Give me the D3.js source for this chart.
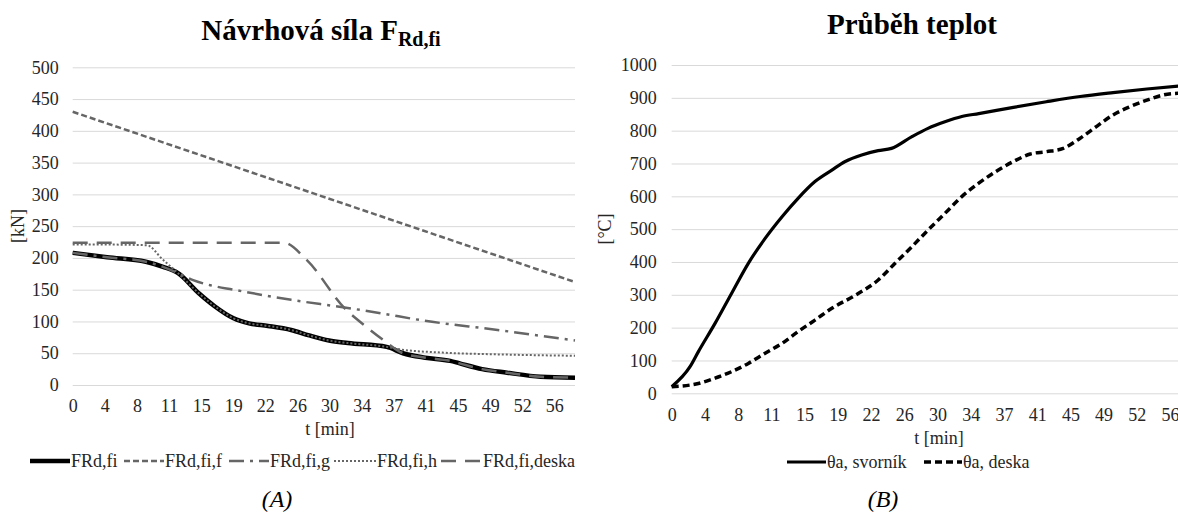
<!DOCTYPE html>
<html>
<head>
<meta charset="utf-8">
<script src="https://cdn.jsdelivr.net/npm/d3@7"></script>
<style>
  body { margin: 0; background: #fff; }
  svg { display: block; }
  text { font-family: "Liberation Serif", "Times New Roman", serif; }
</style>
</head>
<body>
<script>
// x axis categories (minutes), shared by both charts
const tickLabels = ["0", "4", "8", "11", "15", "19", "22", "26", "30", "34", "37", "41", "45", "49", "52", "56"];
const tickMinutes = tickLabels.map((d, i) => i * 56 / 15);

// chart A: design force [kN], points are [t min, value]
const fRdFi = [[0, 208], [4, 201], [8.5, 194], [10.5, 186], [12.25, 176], [14.7, 144], [16.5, 124], [18.7, 105],
  [20.5, 97], [22.7, 93], [25.4, 86.6], [27.5, 78], [29.8, 70], [32, 66], [36.5, 60], [38.4, 50], [41, 43],
  [43.9, 38], [45, 34], [47.6, 25], [50.5, 19.4], [54.4, 13], [58.4, 11.5]];
const fRdFiF = [[0, 430], [58.4, 162]];
const fRdFiG = [[0, 208], [4, 201], [8.5, 194], [10.5, 186], [12.25, 176], [14, 165], [16, 157], [18.7, 150],
  [25.4, 134], [31.6, 122], [35.8, 113], [40.5, 102], [49.4, 86.6], [58.4, 70]];
const fRdFiH = [[0, 221], [4, 221], [8.6, 220], [10.5, 197], [12.25, 176], [14.7, 144], [16.5, 124], [18.7, 105],
  [20.5, 97], [22.7, 93], [25.4, 86.6], [27.5, 78], [29.8, 70], [32, 66], [36.5, 60], [38.1, 56], [43, 51],
  [50, 48], [58.4, 46]];
const fRdFiDeska = [[0, 224], [24.5, 224], [27.2, 197], [31.6, 121], [34, 93], [36.1, 71], [38.4, 50], [41, 43],
  [43.9, 38], [45, 34], [47.6, 25], [50.5, 19.4], [54.4, 13], [58.4, 11.5]];

// chart B: temperatures [°C]
const thetaSvornik = [[0, 20], [2.06, 81], [3, 127], [4.87, 213], [6.74, 305], [8.61, 396], [10.5, 472],
  [12.4, 538], [14.2, 594], [16.1, 645], [18, 680], [19.5, 706], [21.35, 726], [23.2, 739], [24.7, 746],
  [27, 782], [28.8, 807], [30.7, 827], [32.6, 843], [34.5, 852], [38.4, 871], [42.1, 888], [45.9, 904],
  [49.6, 916], [53.4, 927], [57, 936]];
const thetaDeska = [[0, 20], [3, 30], [4.87, 46], [6.74, 66], [8.61, 91], [10.5, 122], [12.4, 152], [14.2, 188],
  [16.1, 223], [18, 259], [20.6, 298], [23.2, 345], [25.1, 396], [27, 447], [28.8, 497], [30.7, 548],
  [32.6, 599], [34.5, 640], [36.4, 675], [38.4, 706], [40.3, 729], [42.1, 736], [44, 746], [45.9, 777],
  [47.8, 814], [49.6, 848], [51.5, 873], [53.4, 893], [55.3, 909], [57, 914]];

const yTicksA = d3.range(0, 501, 50);
const yTicksB = d3.range(0, 1001, 100);

const serif = '"Liberation Serif", "Times New Roman", serif';
const textColor = "#262626";
const gray = "#666";

const svg = d3.select("body").append("svg")
  .attr("width", 1178)
  .attr("height", 515)
  .attr("font-family", serif);

function drawAxes(x, y, yTicks, opts) {
  const [x0, x1] = x.range();
  const g = svg.append("g");

  // horizontal gridlines + y labels
  g.append("g")
    .attr("transform", `translate(${x0},0)`)
    .call(d3.axisLeft(y).tickValues(yTicks).tickFormat(d3.format("d"))
      .tickSize(-(x1 - x0)).tickPadding(opts.yPad))
    .attr("font-family", serif).attr("font-size", 18)
    .call(a => a.select(".domain").remove())
    .call(a => a.selectAll("line").attr("stroke", "#d9d9d9"))
    .call(a => a.selectAll("text").attr("fill", textColor));

  // x labels
  g.append("g")
    .attr("transform", `translate(0,${y(0)})`)
    .call(d3.axisBottom(x).tickValues(tickMinutes).tickFormat((d, i) => tickLabels[i])
      .tickSize(0).tickPadding(opts.xPad))
    .attr("font-family", serif).attr("font-size", 18)
    .call(a => a.select(".domain").remove())
    .call(a => a.selectAll("text").attr("fill", textColor));

  g.append("text")
    .attr("x", opts.xTitleX).attr("y", opts.xTitleY)
    .attr("text-anchor", "middle").attr("fill", textColor)
    .style("font-size", "18px")
    .text("t [min]");

  g.append("text")
    .attr("transform", `translate(${opts.yTitleX},${opts.yTitleY}) rotate(-90)`)
    .attr("text-anchor", "middle").attr("dy", "0.35em").attr("fill", textColor)
    .style("font-size", "18px")
    .text(opts.yTitle);
}

function drawSeries(x, y, data, style) {
  const line = d3.line()
    .x(d => x(d[0]))
    .y(d => y(d[1]))
    .curve(d3.curveMonotoneX);
  svg.append("path")
    .datum(data)
    .attr("fill", "none")
    .attr("stroke", style.color)
    .attr("stroke-width", style.width)
    .attr("stroke-dasharray", style.dash)
    .attr("d", line);
}

function drawLegend(items, ly) {
  items.forEach(it => {
    svg.append("line")
      .attr("x1", it.x).attr("x2", it.x + it.len)
      .attr("y1", ly).attr("y2", ly)
      .attr("stroke", it.style.color)
      .attr("stroke-width", it.style.width)
      .attr("stroke-dasharray", it.style.dash);
    svg.append("text")
      .attr("x", it.x + it.len + 1).attr("y", ly + 6)
      .attr("fill", textColor)
      .style("font-size", "18px")
      .text(it.name);
  });
}

// ---------- chart A ----------
const xA = d3.scaleLinear().domain([0, 58.4]).range([72.7, 575]);
const yA = d3.scaleLinear().domain([0, 500]).range([385, 67.3]);

drawAxes(xA, yA, yTicksA, {
  yPad: 14, xPad: 14, xTitleX: 330, xTitleY: 435,
  yTitle: "[kN]", yTitleX: 18, yTitleY: 226
});

const stA = {
  fi: { color: "#000", width: 4.5, dash: null },
  f: { color: gray, width: 2.5, dash: "6,3" },
  g: { color: gray, width: 2.5, dash: "15,6,3,6" },
  h: { color: gray, width: 2, dash: "2,2" },
  deska: { color: gray, width: 2.5, dash: "15,9" }
};

drawSeries(xA, yA, fRdFi, stA.fi);
drawSeries(xA, yA, fRdFiF, stA.f);
drawSeries(xA, yA, fRdFiG, stA.g);
drawSeries(xA, yA, fRdFiH, stA.h);
drawSeries(xA, yA, fRdFiDeska, stA.deska);

const titleA = svg.append("text")
  .attr("x", 321).attr("y", 40)
  .attr("text-anchor", "middle")
  .attr("fill", "#000")
  .style("font-size", "29px").style("font-weight", "bold");
titleA.append("tspan").text("Návrhová síla F");
titleA.append("tspan").attr("dy", 6).style("font-size", "20px").text("Rd,fi");

drawLegend([
  { name: "FRd,fi", x: 30, len: 40, style: stA.fi },
  { name: "FRd,fi,f", x: 124, len: 40, style: stA.f },
  { name: "FRd,fi,g", x: 229, len: 40, style: stA.g },
  { name: "FRd,fi,h", x: 334, len: 42, style: stA.h },
  { name: "FRd,fi,deska", x: 441, len: 41, style: stA.deska }
], 461);

svg.append("text")
  .attr("x", 277).attr("y", 507)
  .attr("text-anchor", "middle")
  .attr("fill", "#000")
  .style("font-size", "24px").style("font-style", "italic")
  .text("(A)");

// ---------- chart B ----------
const xB = d3.scaleLinear().domain([0, 58.4]).range([671.7, 671.7 + 58.4 * 8.899]);
const yB = d3.scaleLinear().domain([0, 1000]).range([393.3, 65]);

drawAxes(xB, yB, yTicksB, {
  yPad: 15, xPad: 15, xTitleX: 939, xTitleY: 444,
  yTitle: "[°C]", yTitleX: 605, yTitleY: 229
});

const stB = {
  svornik: { color: "#000", width: 3.2, dash: null },
  deska: { color: "#000", width: 3.5, dash: "7,4" }
};

drawSeries(xB, yB, thetaSvornik, stB.svornik);
drawSeries(xB, yB, thetaDeska, stB.deska);

svg.append("text")
  .attr("x", 912).attr("y", 34)
  .attr("text-anchor", "middle")
  .attr("fill", "#000")
  .style("font-size", "29px").style("font-weight", "bold")
  .text("Průběh teplot");

drawLegend([
  { name: "θa, svorník", x: 787, len: 39, style: stB.svornik },
  { name: "θa, deska", x: 924, len: 38, style: stB.deska }
], 462);

svg.append("text")
  .attr("x", 883).attr("y", 507)
  .attr("text-anchor", "middle")
  .attr("fill", "#000")
  .style("font-size", "24px").style("font-style", "italic")
  .text("(B)");
</script>
</body>
</html>
